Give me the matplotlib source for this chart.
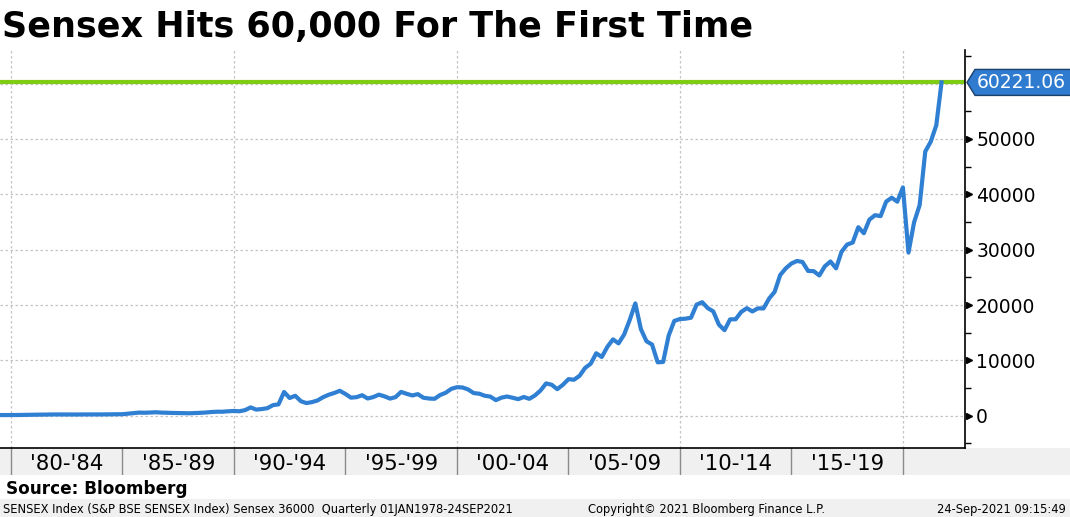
# Libraries ----------------------------------------

import numpy as np
import pandas as pd
import matplotlib
matplotlib.use("Agg")
import matplotlib.pyplot as plt
from matplotlib.patches import Polygon, Rectangle
from matplotlib.transforms import IdentityTransform

# Data ----------------------------------------

# quarter-end close of the Sensex, 1978Q1 .. 2021Q3 (last one is 24-Sep-2021)
sensex_close = [
    # 1978 - 1989
    110, 118, 120, 116,
    116, 114, 112, 118,
    125, 135, 150, 173,
    190, 215, 225, 227,
    220, 215, 210, 215,
    230, 225, 220, 230,
    245, 250, 255, 270,
    370, 470, 560, 530,
    580, 620, 560, 525,
    500, 480, 440, 440,
    470, 520, 580, 670,
    720, 720, 800, 850,
    # 1990 - 1999
    800, 1000, 1500, 1100,
    1200, 1350, 1900, 2050,
    4285, 3200, 3600, 2615,
    2281, 2450, 2750, 3346,
    3780, 4100, 4500, 3926,
    3261, 3350, 3700, 3110,
    3367, 3800, 3500, 3085,
    3361, 4300, 3950, 3659,
    3893, 3250, 3102, 3055,
    3740, 4140, 4850, 5150,
    # 2000 - 2009
    5100, 4748, 4090, 3972,
    3604, 3456, 2811, 3262,
    3469, 3245, 2991, 3377,
    3049, 3650, 4550, 5839,
    5591, 4795, 5584, 6603,
    6493, 7194, 8634, 9398,
    11280, 10609, 12454, 13787,
    13072, 14651, 17291, 20287,
    15644, 13462, 12860, 9647,
    9709, 14494, 17127, 17465,
    # 2010 - 2021
    17528, 17701, 20069, 20509,
    19445, 18846, 16453, 15455,
    17404, 17430, 18763, 19427,
    18836, 19396, 19380, 21171,
    22386, 25414, 26631, 27499,
    27957, 27781, 26155, 26118,
    25342, 26999, 27866, 26626,
    29621, 30922, 31284, 34057,
    32969, 35423, 36227, 36068,
    38673, 39395, 38667, 41254,
    29468, 34916, 38068, 47751,
    49509, 52483, 60221.06,
]
first_quarter = "1978Q1"
last_quarter = "2021Q3"
last_date = "2021-09-24"

y_ticks = [0, 10000, 20000, 30000, 40000, 50000]
bin_starts = [1980, 1985, 1990, 1995, 2000, 2005, 2010, 2015, 2020]
bin_labels = ["'80-'84", "'85-'89", "'90-'94", "'95-'99", "'00-'04",
              "'05-'09", "'10-'14", "'15-'19"]

title = "Sensex Hits 60,000 For The First Time"
source = "Source: Bloomberg"
footer_left = "SENSEX Index (S&P BSE SENSEX Index) Sensex 36000  Quarterly 01JAN1978-24SEP2021"
footer_mid = "Copyright\u00a9 2021 Bloomberg Finance L.P."
footer_right = "24-Sep-2021 09:15:49"

# Dates as decimal years ----------------------------------------

dates = pd.period_range(first_quarter, last_quarter, freq="Q").end_time.normalize()
dates = list(dates[:-1]) + [pd.Timestamp(last_date)]
x = np.array([d.year + (d.dayofyear - 1) / 365.25 for d in dates])
y = np.array(sensex_close)
last_value = sensex_close[-1]

# Figure ----------------------------------------

W, H = 1070, 517
fig = plt.figure(figsize=(W / 100, H / 100), dpi=100)

blue = "#2f7fd3"
green = "#7fcc14"
grid_c = "#c4c4c4"
band_c = "#f0f0f0"

x0 = 1979.507
px_per_year = 22.3
x1 = x0 + 965 / px_per_year

ax = fig.add_axes([0, (H - 448) / H, 965 / W, (448 - 50) / H])
ax.set_xlim(x0, x1)
ax.set_ylim(-5837, 66080)

for yt in y_ticks + [60000]:
    ax.axhline(yt, color=grid_c, lw=0.9, ls=(0, (2, 2)), zorder=0)
for xb in bin_starts[::2]:
    ax.axvline(xb, color=grid_c, lw=0.9, ls=(0, (2, 2)), zorder=0)

ax.axhline(last_value, color=green, lw=3, zorder=2)
ax.plot(x, y, color=blue, lw=3, solid_joinstyle="round", zorder=3)

for s in ["top", "left"]:
    ax.spines[s].set_visible(False)
ax.spines["right"].set_linewidth(1.2)
ax.spines["bottom"].set_linewidth(1.2)
ax.set_xticks([])
ax.yaxis.tick_right()
ax.set_yticks(y_ticks)
ax.set_yticklabels([str(v) for v in y_ticks], fontsize=13.5)
ax.set_yticks([v + 5000 for v in range(-10000, 65000, 10000)], minor=True)
ax.tick_params(axis="y", which="major", length=0, pad=8)
ax.tick_params(axis="y", which="minor", length=4, width=1, direction="out")
# arrow-like major tick markers
ax.plot([1.0045] * len(y_ticks), y_ticks, ls="none", marker=">", ms=5,
        color="black", transform=ax.get_yaxis_transform(), clip_on=False)

# last value label ----------------------------------------
fig.canvas.draw()
px, py = ax.transData.transform((x1, last_value))
pts = [(px + 2, py), (px + 10, py + 13), (W + 5, py + 13), (W + 5, py - 13), (px + 10, py - 13)]
fig.patches.append(Polygon(pts, closed=True, fc="#2e7bd0", ec="#1c3f6b", lw=1,
                           transform=IdentityTransform(), figure=fig))
fig.text((px + 12) / W, py / H, f"{last_value:.2f}", color="white", fontsize=13.5,
         va="center", ha="left")

# category band ----------------------------------------
band = fig.add_axes([0, (H - 475) / H, 1, (475 - 448) / H], zorder=-1)
band.set_facecolor(band_c)
band.set_xlim(x0, x0 + W / px_per_year)
band.set_ylim(0, 1)
for s in band.spines.values():
    s.set_visible(False)
band.set_xticks([])
band.set_yticks([])
for xb in bin_starts:
    band.axvline(xb, color="#8a8a8a", lw=1)
for xb, lab in zip(bin_starts, bin_labels):
    band.text(xb + 2.5, 0.18, lab, ha="center", va="baseline", fontsize=15.3)

# texts ----------------------------------------
fig.text(2 / W, 1 - 37 / H, title, fontsize=25.2, fontweight="bold", va="baseline")
fig.text(6 / W, 1 - 494 / H, source, fontsize=12.2, fontweight="bold", va="baseline")

fig.patches.append(Rectangle((0, 0), 1, 18 / H, transform=fig.transFigure,
                             fc=band_c, ec="none", figure=fig, zorder=-2))
fig.text(3 / W, 4.5 / H, footer_left, fontsize=8.3, va="baseline", ha="left")
fig.text(707 / W, 4.5 / H, footer_mid, fontsize=8.3, va="baseline", ha="center")
fig.text(1066 / W, 4.5 / H, footer_right, fontsize=8.3, va="baseline", ha="right")

fig.savefig("out.png", dpi=100)
